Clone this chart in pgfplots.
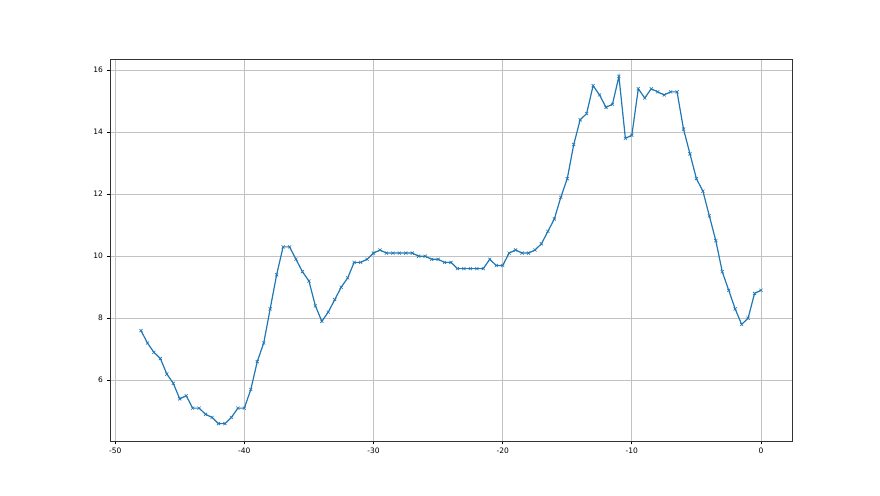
\documentclass[border=0pt]{standalone}
\usepackage{pgfplots}
\pgfplotsset{compat=1.18}
\usepackage{fontspec}
\setmainfont{DejaVu Sans}
\definecolor{tabblue}{HTML}{1F77B4}
\begin{document}
\begin{tikzpicture}[x=1pt,y=1pt]
\path[use as bounding box] (0,0) rectangle (880,495);
\begin{axis}[
  at={(110pt,54pt)}, anchor=south west,
  scale only axis, width=682pt, height=382pt,
  xmin=-50.4, xmax=2.4, ymin=4.04, ymax=16.36,
  xtick={-50,-40,-30,-20,-10,0},
  ytick={6,8,10,12,14,16},
  grid=major,
  major grid style={color=black!24, line width=0.7pt},
  axis line style={line width=0.8pt, black!80},
  tick style={black, line width=0.8pt},
  tick align=outside, tick pos=left,
  major tick length=3.5pt,
  tick label style={font=\fontsize{7.5}{9}\selectfont},
  /pgf/number format/assume math mode=true,
]
\addplot[color=tabblue, line width=1.2pt, mark=x, mark size=2.2pt, mark options={line width=0.6pt}] coordinates {
(-48,7.6)(-47.5,7.2)(-47,6.9)(-46.5,6.7)(-46,6.2)(-45.5,5.9)(-45,5.4)(-44.5,5.5)
(-44,5.1)(-43.5,5.1)(-43,4.9)(-42.5,4.8)(-42,4.6)(-41.5,4.6)(-41,4.8)(-40.5,5.1)
(-40,5.1)(-39.5,5.7)(-39,6.6)(-38.5,7.2)(-38,8.3)(-37.5,9.4)(-37,10.3)(-36.5,10.3)
(-36,9.9)(-35.5,9.5)(-35,9.2)(-34.5,8.4)(-34,7.9)(-33.5,8.2)(-33,8.6)(-32.5,9.0)
(-32,9.3)(-31.5,9.8)(-31,9.8)(-30.5,9.9)(-30,10.1)(-29.5,10.2)(-29,10.1)(-28.5,10.1)
(-28,10.1)(-27.5,10.1)(-27,10.1)(-26.5,10.0)(-26,10.0)(-25.5,9.9)(-25,9.9)(-24.5,9.8)
(-24,9.8)(-23.5,9.6)(-23,9.6)(-22.5,9.6)(-22,9.6)(-21.5,9.6)(-21,9.9)(-20.5,9.7)
(-20,9.7)(-19.5,10.1)(-19,10.2)(-18.5,10.1)(-18,10.1)(-17.5,10.2)(-17,10.4)(-16.5,10.8)
(-16,11.2)(-15.5,11.9)(-15,12.5)(-14.5,13.6)(-14,14.4)(-13.5,14.6)(-13,15.5)(-12.5,15.2)
(-12,14.8)(-11.5,14.9)(-11,15.8)(-10.5,13.8)(-10,13.9)(-9.5,15.4)(-9,15.1)(-8.5,15.4)
(-8,15.3)(-7.5,15.2)(-7,15.3)(-6.5,15.3)(-6,14.1)(-5.5,13.3)(-5,12.5)(-4.5,12.1)
(-4,11.3)(-3.5,10.5)(-3,9.5)(-2.5,8.9)(-2,8.3)(-1.5,7.8)(-1,8.0)(-0.5,8.8)(0,8.9)
};
\end{axis}
\end{tikzpicture}
\end{document}
